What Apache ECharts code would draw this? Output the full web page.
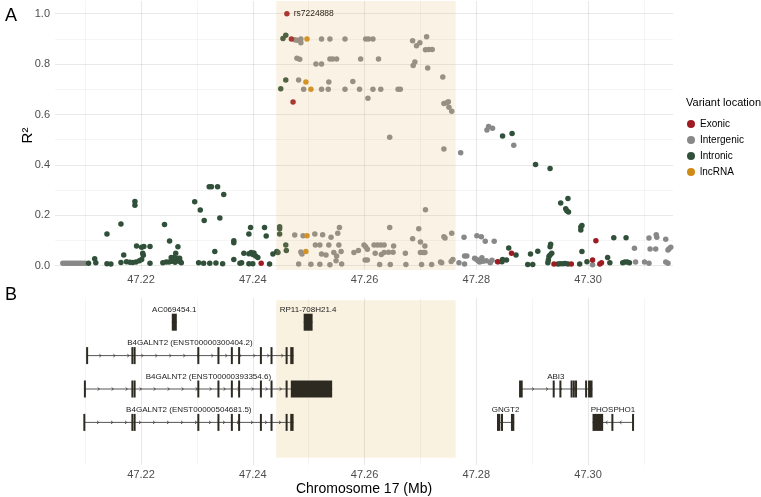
<!DOCTYPE html>
<html><head><meta charset="utf-8">
<script src="https://cdn.jsdelivr.net/npm/echarts@6/dist/echarts.min.js"></script>
<style>html,body{margin:0;padding:0;background:#fff}#c{width:761px;height:497px}</style>
</head><body><div id="c"></div>
<script>
// ---------- axis ticks ----------
const xTicks = [47.22, 47.24, 47.26, 47.28, 47.30];
const xMinor = [47.21, 47.23, 47.25, 47.27, 47.29, 47.31];
const yTicks = [0, 0.2, 0.4, 0.6, 0.8, 1.0];
const yMinor = [0.1, 0.3, 0.5, 0.7, 0.9];
const categories = ['Exonic', 'Intergenic', 'Intronic', 'lncRNA'];
const shade = [47.2442, 47.2763];
const leadSnp = { name: 'rs7224888', pos: 47.2461, r2: 1.0 };

// ---------- variants [position Mb, R2] ----------
const exonic = [
  [47.2469,0.900],[47.2472,0.650],[47.2415,0.010],[47.2838,0.016],[47.2863,0.049],
  [47.2939,0.007],[47.2970,0.007],[47.3008,0.023],[47.3014,0.099],[47.3021,0.007],[47.3024,0.012]
];
const lncRNA = [
  [47.2497,0.900],[47.2495,0.729],[47.2504,0.700],[47.2497,0.119],[47.2495,0.056]
];
const intronic = [
  [47.2106,0.010],[47.2117,0.028],[47.2119,0.012],[47.2139,0.008],[47.2146,0.007],[47.2139,0.126],
  [47.2164,0.165],[47.2169,0.042],[47.2164,0.013],[47.2174,0.016],[47.2180,0.014],[47.2185,0.013],
  [47.2191,0.015],[47.2197,0.020],[47.2201,0.025],[47.2189,0.255],[47.2189,0.240],[47.2192,0.078],
  [47.2201,0.073],[47.2205,0.076],[47.2216,0.076],[47.2203,0.049],[47.2204,0.041],[47.2216,0.010],
  [47.2242,0.163],[47.2251,0.098],[47.2266,0.075],[47.2262,0.049],[47.2254,0.033],[47.2259,0.033],
  [47.2239,0.012],[47.2245,0.015],[47.2250,0.015],[47.2255,0.018],[47.2261,0.014],[47.2266,0.020],
  [47.2270,0.017],[47.2272,0.012],[47.2265,0.030],[47.2269,0.030],[47.2296,0.254],[47.2306,0.221],
  [47.2313,0.179],[47.2341,0.189],[47.2322,0.313],[47.2326,0.313],[47.2337,0.313],[47.2348,0.283],
  [47.2332,0.056],[47.2303,0.012],[47.2312,0.010],[47.2323,0.010],[47.2334,0.011],[47.2346,0.008],
  [47.2366,0.099],[47.2366,0.091],[47.2366,0.025],[47.2377,0.010],[47.2380,0.012],[47.2384,0.049],
  [47.2393,0.126],[47.2396,0.152],[47.2393,0.047],[47.2397,0.052],[47.2400,0.044],[47.2402,0.050],
  [47.2405,0.038],[47.2409,0.033],[47.2393,0.008],[47.2400,0.008],[47.2421,0.152],[47.2424,0.118],
  [47.2430,0.007],[47.2436,0.046],[47.2443,0.056],[47.2445,0.052],[47.2448,0.147],[47.2448,0.155],
  [47.2448,0.126],[47.2459,0.082],[47.2460,0.060],[47.2454,0.902],[47.2459,0.914],[47.2459,0.737],
  [47.2450,0.702],
  [47.2847,0.515],[47.2864,0.525],[47.2906,0.402],[47.2932,0.386],[47.2951,0.249],[47.2964,0.267],
  [47.2960,0.226],[47.2962,0.218],[47.2965,0.213],[47.2987,0.154],[47.2989,0.159],[47.2987,0.142],
  [47.2989,0.056],[47.2985,0.007],[47.2998,0.016],[47.2847,0.025],[47.2854,0.023],[47.2846,0.016],
  [47.2858,0.070],[47.2871,0.042],[47.2892,0.005],[47.2901,0.005],[47.2897,0.046],[47.2910,0.057],
  [47.2928,0.012],[47.2929,0.023],[47.2930,0.036],[47.2932,0.042],[47.2935,0.049],[47.2932,0.075],
  [47.2933,0.085],[47.2946,0.007],[47.2950,0.008],[47.2955,0.008],[47.2959,0.009],[47.2964,0.007],
  [47.3035,0.033],[47.3039,0.012],[47.3046,0.111],[47.3068,0.111],[47.3062,0.012],[47.3066,0.015],
  [47.3070,0.015],[47.3074,0.012]
];
const intergenic = [
  [47.2060,0.010],[47.2064,0.010],[47.2068,0.010],[47.2072,0.010],[47.2076,0.010],[47.2080,0.010],
  [47.2084,0.010],[47.2088,0.010],[47.2092,0.010],[47.2096,0.010],[47.2100,0.010],
  [47.2475,0.897],[47.2479,0.895],[47.2486,0.900],[47.2486,0.885],[47.2523,0.900],[47.2538,0.900],
  [47.2565,0.900],[47.2602,0.900],[47.2607,0.900],[47.2615,0.900],[47.2686,0.893],[47.2693,0.873],
  [47.2699,0.885],[47.2711,0.909],[47.2709,0.857],[47.2715,0.858],[47.2721,0.858],
  [47.2479,0.823],[47.2484,0.819],[47.2513,0.800],[47.2523,0.800],[47.2538,0.820],[47.2543,0.820],
  [47.2550,0.820],[47.2593,0.820],[47.2625,0.820],[47.2690,0.808],[47.2687,0.794],[47.2713,0.785],
  [47.2482,0.737],[47.2491,0.700],[47.2523,0.700],[47.2535,0.700],[47.2536,0.729],[47.2565,0.700],
  [47.2579,0.731],[47.2591,0.700],[47.2606,0.664],[47.2615,0.700],[47.2629,0.700],[47.2660,0.700],
  [47.2664,0.700],[47.2740,0.749],[47.2742,0.644],[47.2747,0.647],[47.2750,0.651],[47.2751,0.629],
  [47.2756,0.613],
  [47.2645,0.510],[47.2742,0.463],[47.2772,0.448],[47.2819,0.538],[47.2822,0.552],[47.2829,0.545],
  [47.2867,0.478],[47.2709,0.222],
  [47.2475,0.122],[47.2490,0.119],[47.2486,0.054],[47.2488,0.046],[47.2482,0.007],[47.2511,0.126],
  [47.2525,0.123],[47.2512,0.082],[47.2520,0.082],[47.2536,0.082],[47.2504,0.006],[47.2523,0.046],
  [47.2531,0.042],[47.2540,0.113],[47.2552,0.129],[47.2555,0.152],[47.2554,0.082],[47.2545,0.052],
  [47.2550,0.038],[47.2558,0.056],[47.2549,0.020],[47.2559,0.007],[47.2520,0.006],[47.2538,0.004],
  [47.2581,0.052],[47.2589,0.060],[47.2599,0.082],[47.2601,0.023],[47.2602,0.075],[47.2605,0.065],
  [47.2605,0.023],[47.2645,0.152],[47.2697,0.147],[47.2742,0.115],[47.2744,0.110],[47.2756,0.129],
  [47.2686,0.107],[47.2700,0.094],[47.2708,0.078],[47.2617,0.082],[47.2623,0.082],[47.2629,0.082],
  [47.2635,0.082],[47.2652,0.078],[47.2619,0.049],[47.2630,0.044],[47.2635,0.052],[47.2643,0.053],
  [47.2651,0.053],[47.2673,0.049],[47.2700,0.052],[47.2705,0.052],[47.2708,0.052],[47.2627,0.005],
  [47.2646,0.005],[47.2674,0.005],[47.2702,0.005],[47.2720,0.005],[47.2736,0.015],[47.2738,0.012],
  [47.2755,0.017],[47.2758,0.025],
  [47.2769,0.012],[47.2779,0.038],[47.2783,0.038],[47.2779,0.007],[47.2778,0.113],[47.2801,0.119],
  [47.2809,0.115],[47.2816,0.097],[47.2832,0.097],[47.2797,0.030],[47.2800,0.026],[47.2803,0.020],
  [47.2806,0.015],[47.2808,0.024],[47.2810,0.032],[47.2812,0.018],[47.2818,0.020],[47.2825,0.012],
  [47.2828,0.022],[47.2840,0.016],[47.3008,0.004],[47.3085,0.015],[47.3083,0.069],[47.3101,0.015],
  [47.3109,0.010],[47.3109,0.110],[47.3122,0.123],[47.3123,0.113],[47.3111,0.066],[47.3121,0.066],
  [47.3139,0.015],[47.3143,0.010],[47.3139,0.105],[47.3145,0.067],[47.3143,0.062],[47.3148,0.073]
];

// ---------- gene models ----------
const geneNames = ['AC069454.1','RP11-708H21.4','B4GALNT2 (ENST00000300404.2)','B4GALNT2 (ENST00000393354.6)',
                   'B4GALNT2 (ENST00000504681.5)','ABI3','GNGT2','PHOSPHO1'];
const geneRows   = [1, 1, 2, 3, 4, 3, 4, 4];
const geneStart  = [47.2255, 47.2491, 47.2102, 47.2099, 47.2098, 47.28765, 47.2837, 47.3008];
const geneEnd    = [47.2264, 47.2507, 47.2473, 47.2542, 47.2473, 47.3008, 47.2868, 47.3081];
const geneStrand = ['-', '+', '+', '+', '+', '+', '-', '-'];
const sharedB4 = [[47.2184,47.2185],[47.2188,47.2189],[47.2302,47.2303],[47.2338,47.2339],[47.2362,47.2363],
                  [47.2375,47.2376],[47.2414,47.2415],[47.2433,47.2434],[47.2460,47.2461]];
const exons = [
  [0,47.2255,47.2264],[1,47.2491,47.2507],
  [2,47.2102,47.2105],[2,47.2467,47.2473],
  [3,47.2099,47.2100],[3,47.2468,47.2542],
  [4,47.2098,47.2099],[4,47.2467,47.2473],
  [5,47.28765,47.2883],[5,47.2938,47.2939],[5,47.2950,47.2951],[5,47.2970,47.2971],[5,47.2974,47.2975],
  [5,47.2978,47.2979],[5,47.2996,47.2997],[5,47.3000,47.3008],
  [6,47.2837,47.2843],[6,47.2845,47.2847],[6,47.2862,47.2868],
  [7,47.3008,47.3027],[7,47.3043,47.3044],[7,47.3080,47.3081]
];
[2,3,4].forEach(g => sharedB4.forEach(e => exons.push([g, e[0], e[1]])));

// ---------- styling ----------
const FONT = "'Liberation Sans', Arial, sans-serif";
const colors = { Exonic:'#9E1B22', Intergenic:'#888888', Intronic:'#31503A', lncRNA:'#D08A18' };
const GRID_MAJOR = { color:'rgba(0,0,0,0.085)', width:1.1, type:'solid' };
const GRID_MINOR = { color:'rgba(0,0,0,0.07)', width:0.6, type:'solid' };

const topGridLines = [
  ...yTicks.map(v => ({ yAxis:v, lineStyle:GRID_MAJOR })),
  ...yMinor.map(v => ({ yAxis:v, lineStyle:GRID_MINOR })),
  ...xTicks.map(v => ({ xAxis:v, lineStyle:GRID_MAJOR })),
  ...xMinor.map(v => ({ xAxis:v, lineStyle:GRID_MINOR }))
];
const botGridLines = [
  ...xTicks.map(v => ({ xAxis:v, lineStyle:GRID_MAJOR })),
  ...xMinor.map(v => ({ xAxis:v, lineStyle:GRID_MINOR }))
];

function scatter(name, data, extra) {
  return Object.assign({
    type:'scatter', name, data, xAxisIndex:0, yAxisIndex:0,
    symbolSize:5.5, itemStyle:{ color:colors[name], opacity:1 }, silent:true, z:3
  }, extra || {});
}

function renderGene(params, api) {
  const i = params.dataIndex;
  const a = api.coord([api.value(0), api.value(2)]);
  const b = api.coord([api.value(1), api.value(2)]);
  const y = a[1];
  const children = [{ type:'line', shape:{ x1:a[0], y1:y, x2:b[0], y2:y }, style:{ stroke:'#555', lineWidth:1 } }];
  const dir = geneStrand[i] === '+' ? 1 : -1;
  for (let x = a[0] + 14; x < b[0] - 6; x += 14) {
    children.push({ type:'polyline',
      shape:{ points:[[x - 1*dir, y - 1.5], [x + 0.8*dir, y], [x - 1*dir, y + 1.5]] },
      style:{ stroke:'#333', lineWidth:0.8, fill:null } });
  }
  children.push({ type:'text', x:(a[0] + b[0]) / 2, y:y - 12.5,
    style:{ text:geneNames[i], align:'center', verticalAlign:'middle', fontSize:8, fill:'#1a1a1a', fontFamily:FONT } });
  return { type:'group', children };
}
function renderExon(params, api) {
  const a = api.coord([api.value(0), api.value(2)]);
  const b = api.coord([api.value(1), api.value(2)]);
  const raw = b[0] - a[0];
  const w = Math.max(raw, 2);
  const x = (a[0] + b[0]) / 2 - w / 2;
  return { type:'rect', shape:{ x, y:a[1] - 8.5, width:w, height:17 }, style:{ fill:'#2d2a22' } };
}

const xAxisCommon = {
  type:'value', min:47.2046, max:47.3152,
  axisLine:{ show:false }, axisTick:{ show:false }, splitLine:{ show:false },
  axisLabel:{ customValues:xTicks, formatter:v => v.toFixed(2), color:'#4D4D4D', fontSize:11, fontFamily:FONT, margin:4 }
};

const chart = echarts.init(document.getElementById('c'), null, { renderer:'canvas' });
chart.setOption({
  animation:false,
  backgroundColor:'#ffffff',
  textStyle:{ fontFamily:FONT },
  title:[
    { text:'A', left:5, top:7, padding:0, textStyle:{ fontSize:18, fontWeight:'normal', color:'#000', fontFamily:FONT } },
    { text:'B', left:5, top:286, padding:0, textStyle:{ fontSize:18, fontWeight:'normal', color:'#000', fontFamily:FONT } },
    { text:'Variant location', left:686, top:97, padding:0, textStyle:{ fontSize:11, fontWeight:'normal', color:'#000', fontFamily:FONT } }
  ],
  legend:{
    data:categories, orient:'vertical', left:687, top:118, padding:0, itemGap:4,
    itemWidth:8, itemHeight:8, icon:'circle',
    textStyle:{ fontSize:10, color:'#000', fontFamily:FONT, lineHeight:12 }
  },
  grid:[
    { left:55, width:618, top:1, height:269 },
    { left:55, width:618, top:298, height:167 }
  ],
  xAxis:[
    Object.assign({ gridIndex:0 }, xAxisCommon),
    Object.assign({ gridIndex:1, name:'Chromosome 17 (Mb)', nameLocation:'middle', nameGap:17,
      nameTextStyle:{ fontSize:14, color:'#000', fontFamily:FONT } }, xAxisCommon)
  ],
  yAxis:[
    { gridIndex:0, type:'value', min:-0.0171, max:1.0504,
      axisLine:{ show:false }, axisTick:{ show:false }, splitLine:{ show:false },
      axisLabel:{ customValues:yTicks, formatter:v => v.toFixed(1), color:'#4D4D4D', fontSize:11, fontFamily:FONT, margin:5 },
      name:'R²', nameLocation:'middle', nameGap:20, nameRotate:90, nameMoveOverlap:false,
      nameTextStyle:{ fontSize:15, color:'#000', fontFamily:FONT } },
    { gridIndex:1, type:'value', inverse:true, min:0.2754, max:5.2754, show:false }
  ],
  series:[
    { type:'scatter', name:'_bgTop', data:[], xAxisIndex:0, yAxisIndex:0, silent:true,
      markArea:{ silent:true, z:5, itemStyle:{ color:'rgba(228,190,110,0.18)' }, data:[[{ xAxis:shade[0] }, { xAxis:shade[1] }]] },
      markLine:{ silent:true, z:1.5, symbol:['none','none'], label:{ show:false }, data:topGridLines } },
    { type:'scatter', name:'_bgBot', data:[], xAxisIndex:1, yAxisIndex:1, silent:true,
      markArea:{ silent:true, z:1, itemStyle:{ color:'#FAF2E0' }, data:[[{ xAxis:shade[0], yAxis:0.34 }, { xAxis:shade[1], yAxis:5.06 }]] },
      markLine:{ silent:true, z:1.5, symbol:['none','none'], label:{ show:false }, data:botGridLines } },
    scatter('Intergenic', intergenic),
    scatter('Intronic', intronic),
    scatter('lncRNA', lncRNA),
    scatter('Exonic', exonic.concat([{
      value:[leadSnp.pos, leadSnp.r2],
      label:{ show:true, formatter:leadSnp.name, position:'right', distance:4, fontSize:8.5, color:'#000', fontFamily:FONT }
    }])),
    { type:'custom', name:'_genes', xAxisIndex:1, yAxisIndex:1, silent:true, z:3, clip:false,
      data:geneNames.map((n, i) => [geneStart[i], geneEnd[i], geneRows[i]]),
      encode:{ x:[0,1], y:2 }, renderItem:renderGene },
    { type:'custom', name:'_exons', xAxisIndex:1, yAxisIndex:1, silent:true, z:4, clip:false,
      data:exons.map(e => [e[1], e[2], geneRows[e[0]]]),
      encode:{ x:[0,1], y:2 }, renderItem:renderExon }
  ]
});
</script></body></html>
